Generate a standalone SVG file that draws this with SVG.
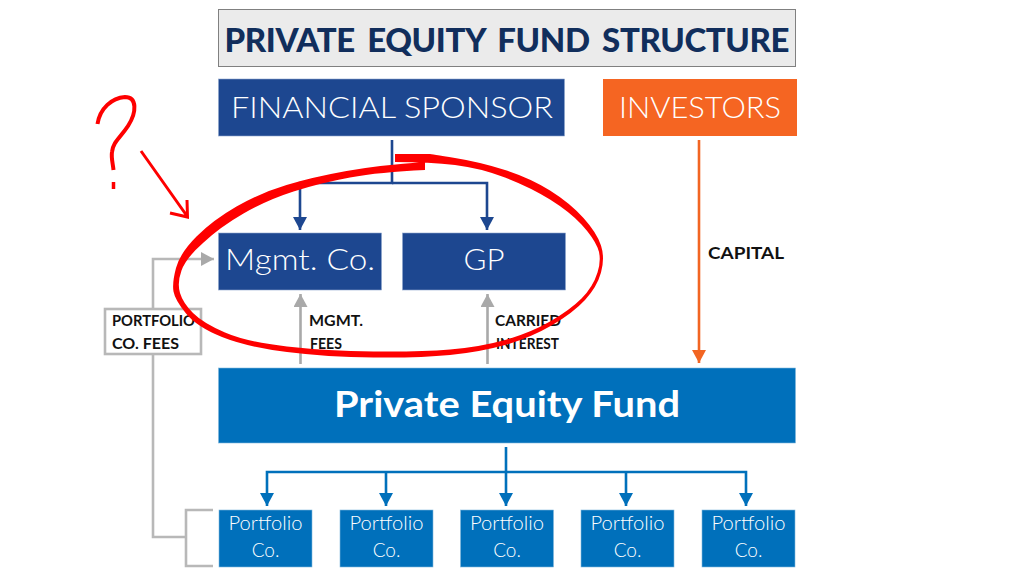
<svg xmlns="http://www.w3.org/2000/svg" width="1024" height="576" viewBox="0 0 1024 576">
<style>
text{font-family:"Lato","Liberation Sans",sans-serif;text-anchor:middle}
.w{fill:#fff;font-weight:300}
.lab{font-weight:700;font-size:14.5px;fill:#111;text-anchor:start}
.navy{fill:#1d4790;stroke:#8ea5cc;stroke-width:.6}
.blue{fill:#0070bb;stroke:#80b8dd;stroke-width:.6}
.c{fill:none;stroke-width:2.6}
.red{fill:none;stroke:#fe0000;stroke-linecap:butt;stroke-linejoin:miter}
</style>
<defs>
<marker id="an" markerUnits="userSpaceOnUse" markerWidth="14" markerHeight="14" refX="13" refY="7" orient="auto"><path d="M0 0L13 7L0 14z" fill="#1d4790"/></marker>
<marker id="ab" markerUnits="userSpaceOnUse" markerWidth="14" markerHeight="14" refX="13" refY="7" orient="auto"><path d="M0 0L13 7L0 14z" fill="#0070bb"/></marker>
<marker id="ag" markerUnits="userSpaceOnUse" markerWidth="14" markerHeight="14" refX="13" refY="7" orient="auto"><path d="M0 0L13 7L0 14z" fill="#a9a9a9"/></marker>
<marker id="ao" markerUnits="userSpaceOnUse" markerWidth="14" markerHeight="14" refX="13" refY="7" orient="auto"><path d="M0 0L13 7L0 14z" fill="#f26522"/></marker>
</defs>
<g id="connectors">
<path class="c" stroke="#1d4790" marker-end="url(#an)" d="M392 140V183H300V230"/>
<path class="c" stroke="#1d4790" marker-end="url(#an)" d="M392 183H487V230"/>
<path class="c" stroke="#f26522" marker-end="url(#ao)" d="M699 140V363"/>
<path class="c" stroke="#a9a9a9" marker-end="url(#ag)" d="M300.500 364V294"/>
<path class="c" stroke="#a9a9a9" marker-end="url(#ag)" d="M487.500 364V294"/>
<path class="c" stroke="#b8b8b8" marker-end="url(#ag)" d="M153 309V259H214"/>
<path class="c" stroke="#b8b8b8" d="M153 354V537H186M213 510H186V566H213"/>
<path class="c" stroke="#0070bb" marker-end="url(#ab)" d="M506 447V506"/>
<path class="c" stroke="#0070bb" marker-end="url(#ab)" d="M506 472H267V506"/>
<path class="c" stroke="#0070bb" marker-end="url(#ab)" d="M386 472V506"/>
<path class="c" stroke="#0070bb" marker-end="url(#ab)" d="M506 472H746V506"/>
<path class="c" stroke="#0070bb" marker-end="url(#ab)" d="M626 472V506"/>
</g>
<g id="title"><rect x="218.500" y="9.500" width="577" height="57" fill="#ebebeb" stroke="#808080" stroke-width="1"/><text x="507" y="52" font-size="33" font-weight="900" fill="#112e5c" style="word-spacing:5px" textLength="565" lengthAdjust="spacing">PRIVATE EQUITY FUND STRUCTURE</text></g>
<g id="sponsor"><rect class="navy" x="218.500" y="79" width="346" height="57"/><text class="w" x="392" y="118" font-size="30" textLength="322" lengthAdjust="spacingAndGlyphs">FINANCIAL SPONSOR</text></g>
<g id="investors"><rect x="603" y="79" width="194" height="57" fill="#f56522"/><text class="w" x="700" y="118" font-size="30" textLength="162" lengthAdjust="spacingAndGlyphs">INVESTORS</text></g>
<g id="mgmt"><rect class="navy" x="218.500" y="233" width="163" height="57"/><text class="w" x="300" y="270" font-size="30" textLength="150" lengthAdjust="spacingAndGlyphs">Mgmt. Co.</text></g>
<g id="gp"><rect class="navy" x="402.500" y="233" width="163" height="57"/><text class="w" x="484" y="270" font-size="30" textLength="41" lengthAdjust="spacingAndGlyphs">GP</text></g>
<g id="fund"><rect class="blue" x="218.500" y="368" width="577" height="75"/><text x="507" y="417" font-size="37" font-weight="700" fill="#fff" textLength="346" lengthAdjust="spacingAndGlyphs">Private Equity Fund</text></g>
<g id="pc1"><rect class="blue" x="219" y="510" width="93" height="57"/><text class="w" x="265.500" y="530" font-size="19" textLength="74" lengthAdjust="spacingAndGlyphs">Portfolio</text><text class="w" x="265.500" y="557" font-size="19">Co.</text></g>
<g id="pc2"><rect class="blue" x="340" y="510" width="93" height="57"/><text class="w" x="386.500" y="530" font-size="19" textLength="74" lengthAdjust="spacingAndGlyphs">Portfolio</text><text class="w" x="386.500" y="557" font-size="19">Co.</text></g>
<g id="pc3"><rect class="blue" x="460.500" y="510" width="93" height="57"/><text class="w" x="507" y="530" font-size="19" textLength="74" lengthAdjust="spacingAndGlyphs">Portfolio</text><text class="w" x="507" y="557" font-size="19">Co.</text></g>
<g id="pc4"><rect class="blue" x="581" y="510" width="93" height="57"/><text class="w" x="627.500" y="530" font-size="19" textLength="74" lengthAdjust="spacingAndGlyphs">Portfolio</text><text class="w" x="627.500" y="557" font-size="19">Co.</text></g>
<g id="pc5"><rect class="blue" x="702" y="510" width="93" height="57"/><text class="w" x="748.500" y="530" font-size="19" textLength="74" lengthAdjust="spacingAndGlyphs">Portfolio</text><text class="w" x="748.500" y="557" font-size="19">Co.</text></g>
<g id="fees"><rect x="105" y="309" width="96" height="45" fill="#fff" stroke="#b8b8b8" stroke-width="2.600"/><text class="lab" x="112" y="326" textLength="83" lengthAdjust="spacingAndGlyphs">PORTFOLIO</text><text class="lab" x="112" y="349" textLength="67" lengthAdjust="spacingAndGlyphs">CO. FEES</text></g>
<text class="lab" x="309" y="326" textLength="54" lengthAdjust="spacingAndGlyphs">MGMT.</text>
<text class="lab" x="310" y="349" textLength="32" lengthAdjust="spacingAndGlyphs">FEES</text>
<text class="lab" x="495" y="326" textLength="66" lengthAdjust="spacingAndGlyphs">CARRIED</text>
<text class="lab" x="496" y="349" textLength="63" lengthAdjust="spacingAndGlyphs">INTEREST</text>
<text class="lab" x="708" y="259" style="font-size:17px" textLength="76" lengthAdjust="spacingAndGlyphs">CAPITAL</text>
<g id="annotation">
<path fill="#fe0000" d="M395 154L430 154Q430 154 455 158Q480 162 505 170Q530 178 550 190.500Q570 203 583.500 218Q597 233 601 245.500Q605 258 601 272.500Q597 287 585 300Q573 313 551.500 325.500Q530 338 505 345Q480 352 450 355Q420 358 373.500 357.500Q327 357 287 352Q247 347 222 337Q197 327 186 313.500Q175 300 173.500 291.500Q172 283 176 268Q180 253 196.500 236.500Q213 220 236.500 206.500Q260 193 286.500 185Q313 177 346.500 171Q380 165 425 162L425 170Q380 172 350 177.500Q320 183 293.500 191.500Q267 200 243.500 213.500Q220 227 203 243Q186 258 181.500 270.500Q177 283 180 293Q183 303 193 313Q203 323 225 332.500Q247 342 287 346.500Q327 351 373.500 351.500Q420 352 450 349.500Q480 347 505 340Q530 333 550 321.500Q570 310 581.500 298.500Q593 287 597.500 272.500Q602 258 597.500 247.500Q593 237 581.500 224.500Q570 212 550 199.500Q530 187 505 177.500Q480 168 455 165Q430 162 395 162Z"/>
<path class="red" stroke-width="4" d="M97.500 124C100 108 112 98 125 97C137 97 137 112 128 126C120 138 113 142 112 152C111 158 113 164 113.500 170"/>
<path class="red" stroke-width="3.500" d="M113.500 182V189"/>
<path class="red" stroke-width="3" d="M141 151L187 216M170 213L187.500 217L187 200"/>
</g>
</svg>
